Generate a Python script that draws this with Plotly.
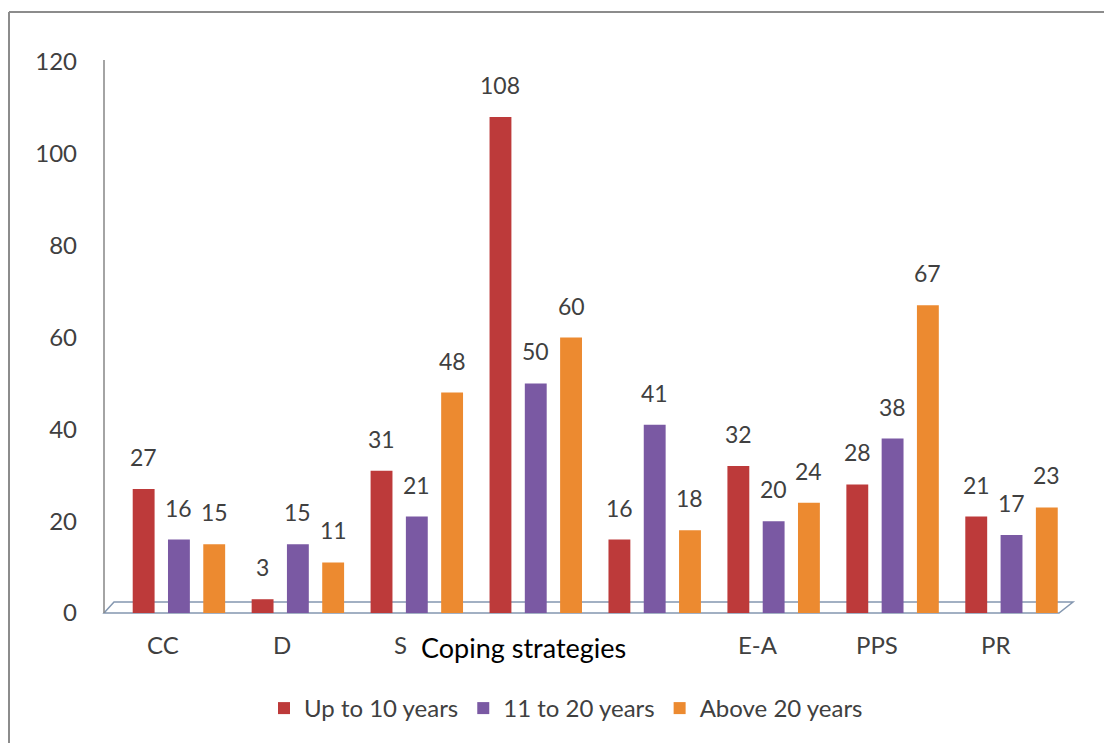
import plotly.graph_objects as go

categories = ["CC", "D", "SC", "SS", "AR", "E-A", "PPS", "PR"]
# category labels as they appear (two are hidden behind the axis title in the reference)
category_labels = ["CC", "D", "S", "", "", "E-A", "PPS", "PR"]
up_to_10 = [27, 3, 31, 108, 16, 32, 28, 21]
from_11_to_20 = [16, 15, 21, 50, 41, 20, 38, 17]
above_20 = [15, 11, 48, 60, 18, 24, 67, 23]
series_names = ["Up to 10 years", "11 to 20 years", "Above 20 years"]
series_colors = ["#BD3A3A", "#7A59A3", "#EC8A30"]
y_ticks = [0, 20, 40, 60, 80, 100, 120]
x_title = "Coping strategies"

FONT = "Lato"
GRAY = "#404040"

# plot area geometry (pixels)
L, R, T, B = 104, 1071, 62, 613
W, H = 1104, 743
PW, PH = R - L, B - T
BARGAP = 0.11
X_RANGE = [-0.63, 7.5]
cat_px = PW / (X_RANGE[1] - X_RANGE[0])
slot_px = cat_px * (1 - BARGAP) / 3


def px(x):
    return (x - L) / PW


def py(y):
    return (B - y) / PH


fig = go.Figure()
annotations = []
all_series = [up_to_10, from_11_to_20, above_20]
for i, (name, vals, col) in enumerate(zip(series_names, all_series, series_colors)):
    fig.add_trace(go.Bar(
        x=categories, y=vals, name=name,
        marker=dict(color=col, line=dict(color=col, width=0)),
        cliponaxis=False,
    ))
    for c, v in zip(categories, vals):
        annotations.append(dict(x=c, y=v, xref="x", yref="y", text=str(v), showarrow=False,
                                xshift=(i - 1) * slot_px, yshift=32, yanchor="middle",
                                font=dict(family=FONT, size=23, color=GRAY)))

shapes = []
# outer border (left and top)
shapes.append(dict(type="line", xref="paper", yref="paper", x0=px(9), x1=px(9), y0=py(12), y1=py(745),
                   line=dict(color="#8C8C8C", width=2)))
shapes.append(dict(type="line", xref="paper", yref="paper", x0=px(9), x1=px(1110), y0=py(12), y1=py(12),
                   line=dict(color="#8C8C8C", width=2)))
# y axis line
shapes.append(dict(type="line", xref="paper", yref="paper", x0=0, x1=0, y0=py(613), y1=py(60),
                   line=dict(color="#868686", width=1.5)))
# 3D floor
floor = (f"M {px(104)},{py(613)} L {px(114)},{py(602)} L {px(1073)},{py(602)} "
         f"L {px(1059)},{py(613)} Z")
shapes.append(dict(type="path", xref="paper", yref="paper", path=floor,
                   line=dict(color="#8497B0", width=1.5), fillcolor="rgba(0,0,0,0)", layer="below"))

for c, lab in zip(categories, category_labels):
    if lab:
        annotations.append(dict(x=c, y=0, xref="x", yref="y", text=lab, showarrow=False,
                                xshift=-16, yshift=-31, yanchor="middle",
                                font=dict(family=FONT, size=24, color=GRAY)))
annotations.append(dict(x=px(523), y=py(647), xref="paper", yref="paper", text=x_title,
                        showarrow=False, xanchor="center", yanchor="middle",
                        font=dict(family=FONT, size=27, color="black")))

fig.update_layout(
    width=W, height=H,
    margin=dict(l=L, r=W - R, t=T, b=H - B, autoexpand=False),
    paper_bgcolor="white", plot_bgcolor="white",
    barmode="group", bargap=BARGAP, bargroupgap=0.38,
    font=dict(family=FONT, size=24, color=GRAY),
    xaxis=dict(type="category", range=X_RANGE, showticklabels=False, showline=False,
               showgrid=False, zeroline=False, ticks="", automargin=False),
    yaxis=dict(range=[0, 120], tickvals=y_ticks, showgrid=False, zeroline=False, showline=False,
               ticks="", ticklabelstandoff=26, automargin=False,
               tickfont=dict(family=FONT, size=24, color=GRAY)),
    legend=dict(orientation="h", x=px(566), xanchor="center", y=py(686), yanchor="top",
                font=dict(family=FONT, size=24, color=GRAY), traceorder="normal"),
    shapes=shapes,
    annotations=annotations,
)

fig.write_html("out.html")
